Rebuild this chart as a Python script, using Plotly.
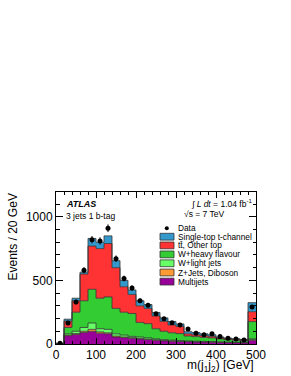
import plotly.graph_objects as go
import numpy as np

# ---- data (20 GeV bins, 0-500 GeV, last bin incl. overflow) ----
bin_edges = list(range(0, 501, 20))
multijets = [2, 65, 75, 90, 100, 85, 80, 55, 50, 45, 40, 35, 30, 25, 22, 20, 18, 16, 15, 14, 12, 11, 10, 9, 30]
zjets_diboson = [0, 5, 7, 10, 15, 10, 8, 7, 5, 5, 4, 3, 3, 3, 3, 2, 2, 2, 2, 2, 2, 2, 2, 2, 4]
w_light = [1, 10, 18, 30, 50, 25, 27, 18, 15, 10, 11, 10, 7, 6, 5, 5, 4, 4, 3, 3, 3, 2, 2, 2, 6]
w_heavy = [1, 50, 150, 210, 265, 240, 255, 200, 180, 180, 115, 112, 80, 66, 58, 55, 39, 36, 32, 29, 23, 19, 16, 13, 136]
ttbar_other = [1, 50, 90, 210, 340, 390, 420, 320, 200, 150, 130, 120, 100, 78, 62, 56, 17, 14, 14, 12, 8, 6, 6, 5, 78]
single_top_t = [1, 15, 20, 15, 60, 50, 60, 55, 50, 35, 40, 30, 28, 27, 27, 20, 17, 18, 14, 12, 7, 6, 5, 5, 71]
data = [5, 165, 330, 580, 820, 810, 910, 670, 515, 440, 340, 305, 237, 198, 168, 150, 118, 84, 72, 80, 58, 46, 40, 32, 290]

TT_LABEL = "tt\u0304, Other top"
components = [
    ("Multijets", multijets, "#990099"),
    ("Z+Jets, Diboson", zjets_diboson, "#ff9933"),
    ("W+light jets", w_light, "#66ff66"),
    ("W+heavy flavour", w_heavy, "#33cc33"),
    (TT_LABEL, ttbar_other, "#ff3333"),
    ("Single-top t-channel", single_top_t, "#3399cc"),
]

FONT = "Liberation Sans, Arial, Helvetica, sans-serif"
fig = go.Figure()

cum = np.zeros(len(multijets))
for i, (name, vals, col) in enumerate(components):
    cum = cum + np.array(vals, dtype=float)
    y = list(cum) + [cum[-1]]
    fig.add_trace(go.Scatter(
        x=bin_edges, y=y, mode="lines", line=dict(shape="hv", color="#333333", width=0.8),
        fill="tozeroy" if i == 0 else "tonexty", fillcolor=col, name=name, showlegend=False,
        hoverinfo="skip"))

centers = [(bin_edges[i] + bin_edges[i + 1]) / 2 for i in range(len(data))]
fig.add_trace(go.Scatter(
    x=centers, y=data, mode="markers", marker=dict(color="black", size=5),
    error_y=dict(type="data", array=list(np.sqrt(data)), color="black", thickness=1, width=0),
    showlegend=False, name="Data"))

# plot area pixels
L, R, T, B = 56, 256, 192, 344
def px(x):
    return (x - L) / (R - L)
def py(y):
    return (B - y) / (B - T)

shapes = []
annotations = []

# legend
leg_rows = [
    ("Single-top t-channel", "#3399cc", 236.7),
    (TT_LABEL, "#ff3333", 245.4),
    ("W+heavy flavour", "#33cc33", 254.4),
    ("W+light jets", "#66ff66", 263.3),
    ("Z+Jets, Diboson", "#ff9933", 272.5),
    ("Multijets", "#990099", 281.6),
]
for label, col, yc in leg_rows:
    shapes.append(dict(type="rect", xref="paper", yref="paper", x0=px(160), x1=px(174),
                       y0=py(yc + 3.4), y1=py(yc - 3.4), fillcolor=col,
                       line=dict(color="#333333", width=0.8)))
    annotations.append(dict(xref="paper", yref="paper", x=px(176), y=py(yc), xanchor="left",
                            yanchor="middle", text=label, showarrow=False,
                            font=dict(family=FONT, size=8.3, color="black")))
shapes.append(dict(type="circle", xref="paper", yref="paper", x0=px(164.8), x1=px(168.8),
                   y0=py(230.3), y1=py(226.3), fillcolor="black", line=dict(color="black", width=0)))
annotations.append(dict(xref="paper", yref="paper", x=px(176), y=py(228.3), xanchor="left",
                        yanchor="middle", text="Data", showarrow=False,
                        font=dict(family=FONT, size=8.3, color="black")))

# labels
annotations += [
    dict(xref="paper", yref="paper", x=px(64), y=py(204), xanchor="left", yanchor="middle",
         text="<b><i>ATLAS</i></b>", showarrow=False, font=dict(family=FONT, size=9, color="black")),
    dict(xref="paper", yref="paper", x=px(64), y=py(216), xanchor="left", yanchor="middle",
         text="3 jets 1 b-tag", showarrow=False, font=dict(family=FONT, size=8.5, color="black")),
    dict(xref="paper", yref="paper", x=px(254), y=py(203), xanchor="right", yanchor="middle",
         text="\u222b <i>L dt</i> = 1.04 fb<sup>-1</sup>", showarrow=False,
         font=dict(family=FONT, size=8.5, color="black")),
    dict(xref="paper", yref="paper", x=px(182), y=py(214), xanchor="left", yanchor="middle",
         text="\u221as = 7 TeV", showarrow=False, font=dict(family=FONT, size=8.5, color="black")),
    dict(xref="paper", yref="paper", x=px(12), y=1, xanchor="center", yanchor="top",
         text="Events / 20 GeV", textangle=-90, showarrow=False,
         font=dict(family=FONT, size=12, color="black")),
    dict(xref="paper", yref="paper", x=1, y=py(366), xanchor="right", yanchor="middle",
         text="m(j<sub>1</sub>j<sub>2</sub>) [GeV]", showarrow=False,
         font=dict(family=FONT, size=12, color="black")),
]

fig.update_layout(
    width=291, height=376, margin=dict(l=L, r=291 - R, t=T, b=376 - B),
    paper_bgcolor="white", plot_bgcolor="white", showlegend=False,
    font=dict(family=FONT, size=12, color="black"),
    shapes=shapes, annotations=annotations,
    xaxis=dict(range=[0, 500], tickvals=[0, 100, 200, 300, 400, 500], ticks="inside", ticklen=6,
               tickcolor="black", showline=True, linecolor="black", linewidth=1, mirror="ticks",
               showgrid=False, zeroline=False, tickfont=dict(size=12),
               minor=dict(dtick=20, tick0=0, ticks="inside", ticklen=3, tickcolor="black", showgrid=False)),
    yaxis=dict(range=[0, 1195], tickvals=[0, 500, 1000], ticks="inside", ticklen=7,
               tickcolor="black", showline=True, linecolor="black", linewidth=1, mirror="ticks",
               showgrid=False, zeroline=False, tickfont=dict(size=12),
               minor=dict(dtick=100, tick0=0, ticks="inside", ticklen=3.5, tickcolor="black", showgrid=False)),
)

fig.write_html("out.html", config={"displayModeBar": False},
               post_script="document.body.style.margin='0px';")
